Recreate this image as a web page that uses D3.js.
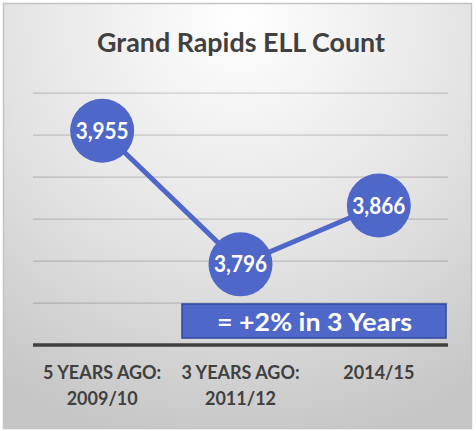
<!DOCTYPE html>
<html><head><meta charset="utf-8">
<script src="https://cdn.jsdelivr.net/npm/d3@7"></script>
<style>html,body{margin:0;padding:0;background:#fff;}svg{display:block;}</style>
</head><body>
<svg id="chart" width="476" height="431"></svg>
<script>
const title = "Grand Rapids ELL Count";
const categories = ["5 YEARS AGO:|2009/10", "3 YEARS AGO:|2011/12", "2014/15"];
const values = [3955, 3796, 3866];
const yTicks = [3700, 3750, 3800, 3850, 3900, 3950, 4000];
const annotation = "= +2% in 3 Years";

const svg = d3.select("#chart");
const W = 476, H = 431;
const FONT = "Lato, 'Open Sans', sans-serif";
const BLUE = "#4f67c9";
const DARK = "#404040";

const defs = svg.append("defs");
const grad = defs.append("radialGradient").attr("id","bg")
  .attr("gradientUnits","userSpaceOnUse")
  .attr("cx",240).attr("cy",20).attr("r",430).attr("fx",240).attr("fy",20);
grad.append("stop").attr("offset","0").attr("stop-color","#ffffff");
grad.append("stop").attr("offset","0.55").attr("stop-color","#e3e3e3");
grad.append("stop").attr("offset","1").attr("stop-color","#c6c6c6");

svg.append("rect").attr("x",3.5).attr("y",3.5).attr("width",468).attr("height",425)
  .attr("fill","url(#bg)").attr("stroke","#c4c4c4").attr("stroke-width",1.5);

const plot = {left:33, right:448, top:93, bottom:345};
const x = d3.scaleBand().domain(categories).range([plot.left, plot.right]);
const y = d3.scaleLinear().domain([3700, 4000]).range([plot.bottom, plot.top]);

function fit(sel, target){
  const w = sel.node().getComputedTextLength();
  if (Math.abs(w - target) > 1) sel.attr("textLength", target).attr("lengthAdjust","spacingAndGlyphs");
  return sel;
}

// title
fit(svg.append("text").attr("x",241).attr("y",52).attr("text-anchor","middle")
  .attr("font-family",FONT).attr("font-weight","bold").attr("font-size",26)
  .attr("fill",DARK).text(title), 288);

// gridlines
svg.append("g").selectAll("line").data(yTicks.filter(d=>d>3700)).join("line")
  .attr("x1",plot.left).attr("x2",plot.right)
  .attr("y1",d=>y(d)).attr("y2",d=>y(d))
  .attr("stroke","rgba(0,0,0,0.12)").attr("stroke-width",1.75);

// annotation box
const bx = 182, by = 304, bw = 264, bh = 34;
svg.append("rect").attr("x",bx).attr("y",by).attr("width",bw).attr("height",bh)
  .attr("fill",BLUE).attr("stroke","#2f4a9e").attr("stroke-width",1.5);
fit(svg.append("text").attr("x",314.5).attr("y",331).attr("text-anchor","middle")
  .attr("font-family",FONT).attr("font-weight","bold").attr("font-size",24)
  .attr("fill","#fff").text(annotation), 195);

// x axis line
svg.append("line").attr("x1",plot.left).attr("x2",plot.right)
  .attr("y1",y(3700)).attr("y2",y(3700))
  .attr("stroke",DARK).attr("stroke-width",3.5);

// series line
const cx = d => x(d) + x.bandwidth()/2;
const pts = categories.map((c,i)=>[cx(c), y(values[i])]);
svg.append("path").attr("d", d3.line()(pts)).attr("fill","none")
  .attr("stroke",BLUE).attr("stroke-width",5);

// markers and labels
const g = svg.append("g").selectAll("g").data(categories).join("g")
  .attr("transform",(c,i)=>`translate(${cx(c)},${y(values[i])})`);
g.append("circle").attr("r",32).attr("fill",BLUE);
g.append("text").attr("text-anchor","middle").attr("y",8)
  .attr("font-family",FONT).attr("font-weight","bold").attr("font-size",23)
  .attr("fill","#fff").text((c,i)=>d3.format(",")(values[i]))
  .each(function(){ fit(d3.select(this), 53); });

// x labels
const xl = svg.append("g").selectAll("text").data(categories).join("text")
  .attr("text-anchor","middle").attr("font-family",FONT).attr("font-weight","bold")
  .attr("font-size",18).attr("fill",DARK);
xl.each(function(c){
  const lines = c.split("|");
  const t = d3.select(this);
  lines.forEach((ln,j)=>{
    t.append("tspan").attr("x",cx(c)).attr("y",379 + j*26).text(ln);
  });
});
</script>
</body></html>
